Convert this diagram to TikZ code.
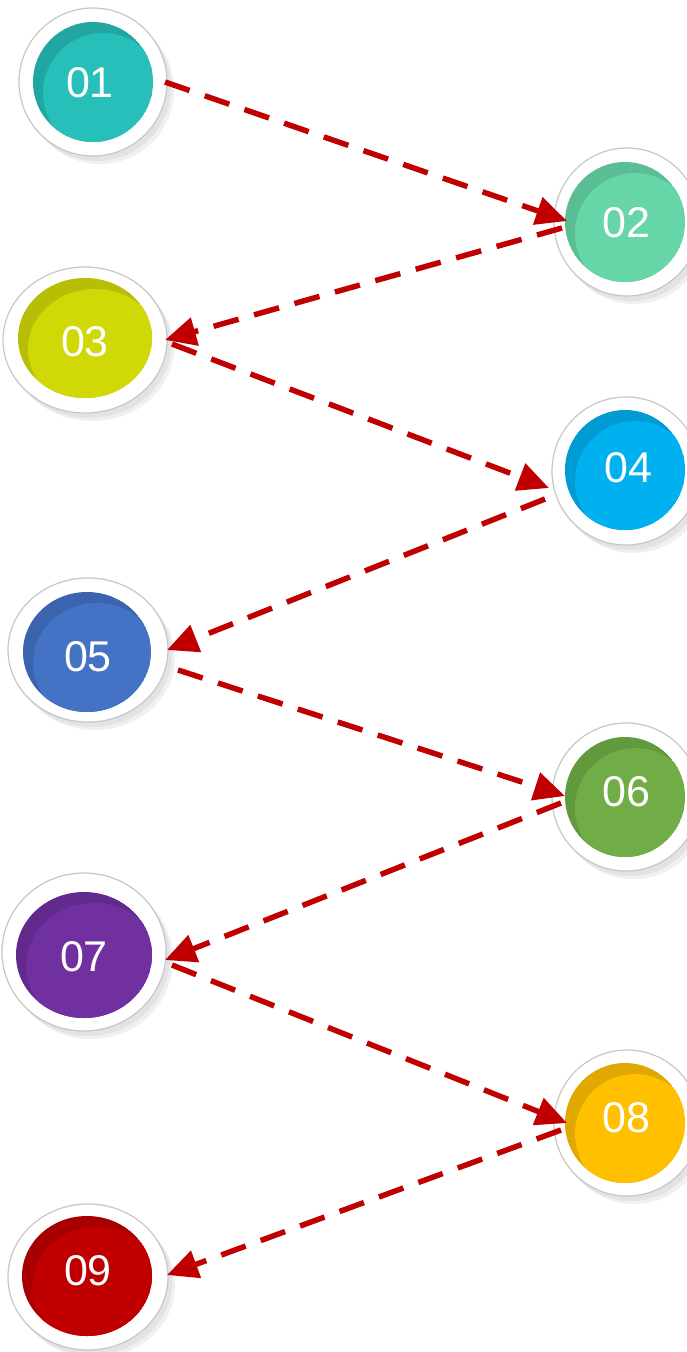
\documentclass[tikz,border=0pt]{standalone}
\usepackage{fontspec}
\setmainfont{Liberation Sans}
\usetikzlibrary{arrows.meta}
\definecolor{arrowred}{HTML}{C00000}
\definecolor{c1l}{HTML}{26BFBA}\definecolor{c1d}{HTML}{22A6A2}
\definecolor{c2l}{HTML}{66D6A8}\definecolor{c2d}{HTML}{5ABD94}
\definecolor{c3l}{HTML}{D0D806}\definecolor{c3d}{HTML}{B8BE05}
\definecolor{c4l}{HTML}{00B0EF}\definecolor{c4d}{HTML}{009BD3}
\definecolor{c5l}{HTML}{4472C4}\definecolor{c5d}{HTML}{3C64AE}
\definecolor{c6l}{HTML}{70AD47}\definecolor{c6d}{HTML}{62983E}
\definecolor{c7l}{HTML}{7030A0}\definecolor{c7d}{HTML}{632A8D}
\definecolor{c8l}{HTML}{FFC000}\definecolor{c8d}{HTML}{E0A800}
\definecolor{c9l}{HTML}{C00000}\definecolor{c9d}{HTML}{A80000}
\tikzset{
  numlabel/.style={text=white, inner sep=0pt, font=\fontsize{43}{50}\selectfont},
  conn/.style={draw=arrowred, line width=5.5pt, dash pattern=on 26pt off 16pt,
    -{Triangle[length=31pt,width=28pt]}},
  ring/.style={fill=white, draw=black!22, line width=1.2pt},
}
\begin{document}
\begin{tikzpicture}[x=1pt,y=-1pt]
\useasboundingbox (0,0) rectangle (687,1352);
\clip (0,0) rectangle (687,1352);
\fill[white] (0,0) rectangle (687,1352);
\foreach \n/\ox/\oy/\orx/\ory/\ix/\iy/\irx/\iry/\tx/\ty in {
  1/93/82/74/74/93/82/60/60/90/83,
  2/627/222/73/74/625/222/60/60/626/223,
  3/85/340/82/73/85/338/67/60/85/342,
  4/626/471/74/74/625/470/60/60/628/468,
  5/88/650/80/72/87/652/64/60/88/657,
  6/626/797/74/74/625/797/60/60/626/792,
  7/84/952/82/79/84/955/68/63/84/957,
  8/627/1123/73/73/625/1123/60/60/626/1118,
  9/88/1277/80/73/87/1276/65/60/88/1271}{
  \fill[black!6] (\ox+7,\oy+8) ellipse [x radius=\orx, y radius=\ory];
  \fill[black!11] (\ox+4,\oy+5) ellipse [x radius=\orx, y radius=\ory];
  \draw[ring] (\ox,\oy) ellipse [x radius=\orx, y radius=\ory];
  \begin{scope}
    \clip (\ix,\iy) ellipse [x radius=\irx, y radius=\iry];
    \fill[c\n d] (\ix,\iy) ellipse [x radius=\irx, y radius=\iry];
    \fill[c\n l] (\ix+10,\iy+11) ellipse [x radius=\irx, y radius=\iry];
  \end{scope}
  \node[numlabel] (t\n) at (\tx,\ty) {0\n};
}
\coordinate (s1) at (165,82);   \coordinate (e2) at (567,221);
\coordinate (s2) at (562,228);  \coordinate (e3) at (165,340);
\coordinate (s3) at (172,344);  \coordinate (e4) at (549,488);
\coordinate (s4) at (545,499);  \coordinate (e5) at (167,650);
\coordinate (s5) at (178,670);  \coordinate (e6) at (565,796);
\coordinate (s6) at (561,803);  \coordinate (e7) at (165,960);
\coordinate (s7) at (172,965);  \coordinate (e8) at (567,1123);
\coordinate (s8) at (561,1130); \coordinate (e9) at (167,1275);
\draw[conn] (s1) -- (e2);
\draw[conn] (s2) -- (e3);
\draw[conn] (s3) -- (e4);
\draw[conn] (s4) -- (e5);
\draw[conn] (s5) -- (e6);
\draw[conn] (s6) -- (e7);
\draw[conn] (s7) -- (e8);
\draw[conn] (s8) -- (e9);
\end{tikzpicture}
\end{document}
